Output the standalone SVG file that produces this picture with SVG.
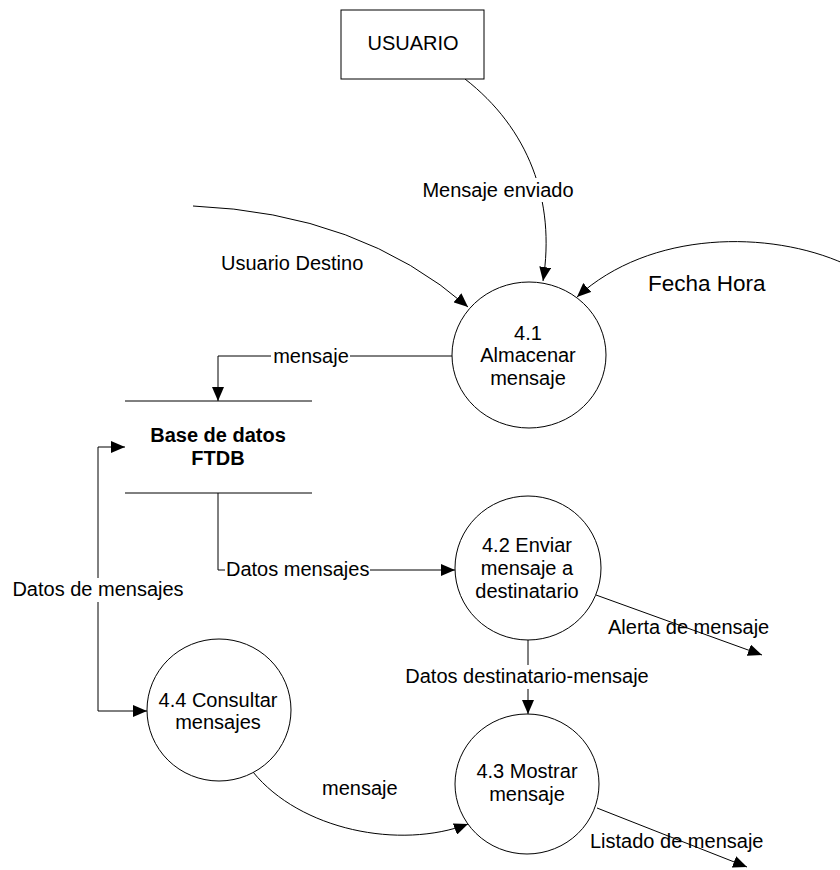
<svg xmlns="http://www.w3.org/2000/svg" width="840" height="870" viewBox="0 0 840 870">
  <style>
    .shape { fill: #ffffff; stroke: #000000; stroke-width: 1; }
    .flow { fill: none; stroke: #000000; stroke-width: 1; marker-end: url(#arrow); }
    .line { fill: none; stroke: #000000; stroke-width: 1; }
    text { font-family: "Liberation Sans", Arial, sans-serif; font-size: 20px; fill: #000000; }
    .c { text-anchor: middle; }
    .bold { font-weight: bold; }
    .bg { fill: #ffffff; stroke: none; }
  </style>
  <defs>
    <marker id="arrow" markerUnits="userSpaceOnUse" markerWidth="14" markerHeight="12" refX="14" refY="6" orient="auto">
      <path d="M0,0 L14,6 L0,12 Z" fill="#000000"/>
    </marker>
    <marker id="arrowStart" markerUnits="userSpaceOnUse" markerWidth="14" markerHeight="12" refX="0" refY="6" orient="auto">
      <path d="M14,0 L0,6 L14,12 Z" fill="#000000"/>
    </marker>
  </defs>

  <!-- connectors -->
  <g id="connectors">
    <!-- Mensaje enviado -->
    <path class="flow" d="M465,79 C528,128 556,200 543,281"/>
    <rect class="bg" x="416" y="178" width="164" height="24"/>
    <text class="c" x="498" y="197">Mensaje enviado</text>

    <!-- Usuario Destino -->
    <path class="flow" d="M193,206 Q360,213 468,307"/>
    <text x="221" y="270">Usuario Destino</text>

    <!-- Fecha Hora -->
    <path class="flow" d="M845,264 C770,230 650,230 577,297"/>
    <text x="648" y="291" style="font-size:22.5px">Fecha Hora</text>

    <!-- mensaje to data store -->
    <path class="flow" d="M452,356 L218,356 L218,401"/>
    <rect class="bg" x="271" y="344" width="79" height="24"/>
    <text class="c" x="311" y="363">mensaje</text>

    <!-- Datos mensajes -->
    <path class="flow" d="M218,493 L218,570 L455,570"/>
    <rect class="bg" x="225" y="558" width="145" height="24"/>
    <text x="226" y="576">Datos mensajes</text>

    <!-- Datos de mensajes -->
    <path class="flow" d="M125,447 L98,447 L98,711 L147,711" marker-start="url(#arrowStart)"/>
    <rect class="bg" x="8" y="578" width="180" height="24"/>
    <text class="c" x="98" y="596">Datos de mensajes</text>

    <!-- Datos destinatario-mensaje -->
    <path class="flow" d="M528,640 L528,714"/>
    <rect class="bg" x="403" y="665" width="248" height="24"/>
    <text class="c" x="527" y="683">Datos destinatario-mensaje</text>

    <!-- Alerta de mensaje -->
    <path class="flow" d="M596,595 L762,655"/>
    <text x="608" y="634">Alerta de mensaje</text>

    <!-- mensaje from 4.4 to 4.3 -->
    <path class="flow" d="M253,772 C300,830 400,850 468,824"/>
    <text x="322" y="795">mensaje</text>

    <!-- Listado de mensaje -->
    <path class="flow" d="M597,808 L747,867"/>
    <text x="590" y="848">Listado de mensaje</text>
  </g>

  <!-- external entity -->
  <g id="usuario">
    <rect class="shape" x="341" y="10" width="143" height="69"/>
    <text class="c" x="413" y="50">USUARIO</text>
  </g>

  <!-- data store -->
  <g id="ftdb">
    <line class="line" x1="125" y1="401" x2="312" y2="401"/>
    <line class="line" x1="125" y1="493" x2="312" y2="493"/>
    <text class="c bold" x="218" y="442">Base de datos</text>
    <text class="c bold" x="218" y="465">FTDB</text>
  </g>

  <!-- processes -->
  <g id="p41">
    <ellipse class="shape" cx="529" cy="355" rx="77" ry="73"/>
    <text class="c" x="528" y="340">4.1</text>
    <text class="c" x="528" y="362">Almacenar</text>
    <text class="c" x="528" y="385">mensaje</text>
  </g>

  <g id="p42">
    <ellipse class="shape" cx="528" cy="568" rx="73" ry="72"/>
    <text class="c" x="527" y="552">4.2 Enviar</text>
    <text class="c" x="527" y="575">mensaje a</text>
    <text class="c" x="527" y="598">destinatario</text>
  </g>

  <g id="p43">
    <ellipse class="shape" cx="527" cy="784" rx="72" ry="70"/>
    <text class="c" x="527" y="778">4.3 Mostrar</text>
    <text class="c" x="527" y="801">mensaje</text>
  </g>

  <g id="p44">
    <ellipse class="shape" cx="219" cy="710" rx="72" ry="71"/>
    <text class="c" x="218" y="707">4.4 Consultar</text>
    <text class="c" x="218" y="729">mensajes</text>
  </g>
</svg>
